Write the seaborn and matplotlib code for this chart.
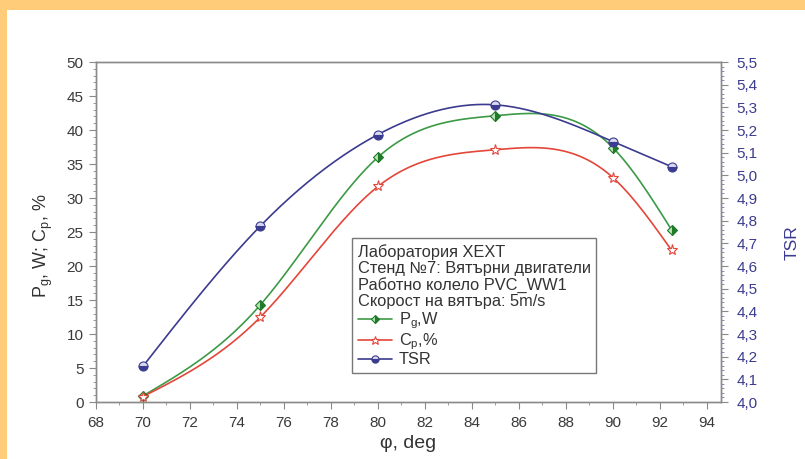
import numpy as np
import matplotlib
matplotlib.use("Agg")
import matplotlib.pyplot as plt
import seaborn as sns
import pandas as pd
from matplotlib.patches import Rectangle
from matplotlib.ticker import MultipleLocator, FuncFormatter
from matplotlib.lines import Line2D

# ---- data ----
phi = [70, 75, 80, 85, 90, 92.5]
pg_w = [0.9, 14.3, 36.0, 42.1, 37.4, 25.3]
cp_pct = [0.8, 12.5, 31.7, 37.1, 33.0, 22.3]
tsr = [4.158, 4.777, 5.180, 5.311, 5.149, 5.038]

legend_title = ["Лаборатория XEXT",
                "Стенд №7: Вятърни двигатели",
                "Работно колело PVC_WW1",
                "Скорост на вятъра: 5m/s"]
x_ticks = list(range(68, 95, 2))
left_ticks = list(range(0, 51, 5))
right_ticks = [4.0 + 0.1 * i for i in range(16)]


def natural_spline(x, y, n=300):
    x = np.asarray(x, float); y = np.asarray(y, float)
    k = len(x); h = np.diff(x)
    A = np.zeros((k, k)); r = np.zeros(k)
    A[0, 0] = A[-1, -1] = 1
    for i in range(1, k - 1):
        A[i, i - 1] = h[i - 1]; A[i, i] = 2 * (h[i - 1] + h[i]); A[i, i + 1] = h[i]
        r[i] = 6 * ((y[i + 1] - y[i]) / h[i] - (y[i] - y[i - 1]) / h[i - 1])
    M = np.linalg.solve(A, r)
    xs = np.linspace(x[0], x[-1], n)
    idx = np.clip(np.searchsorted(x, xs) - 1, 0, k - 2)
    x0 = x[idx]; x1 = x[idx + 1]; hh = x1 - x0
    ys = (M[idx] * (x1 - xs) ** 3 / (6 * hh) + M[idx + 1] * (xs - x0) ** 3 / (6 * hh)
          + (y[idx] / hh - M[idx] * hh / 6) * (x1 - xs)
          + (y[idx + 1] / hh - M[idx + 1] * hh / 6) * (xs - x0))
    return xs, ys


sns.set_theme(style="ticks")
plt.rcParams['font.family'] = ['Liberation Sans', 'DejaVu Sans']
plt.rcParams['mathtext.fontset'] = 'custom'
plt.rcParams['mathtext.rm'] = 'Liberation Sans'
plt.rcParams['mathtext.it'] = 'Liberation Sans'

fig = plt.figure(figsize=(8.05, 4.59), dpi=100)
fig.patch.set_facecolor('white')
ax = fig.add_axes([96 / 805, 57 / 459, 625 / 805, 340 / 459])
ax2 = ax.twinx()

GREEN = '#3c9a46'
DGREEN = '#1f7a2a'
RED = '#e4463a'
NAVY = '#3b3b8f'
SPINE = '#8a8a8a'

df = pd.DataFrame({'phi': phi, 'pg': pg_w, 'cp': cp_pct, 'tsr': tsr})

xs, ys = natural_spline(phi, pg_w)
sns.lineplot(x=xs, y=ys, ax=ax, color=GREEN, lw=1.2)
xs, ys = natural_spline(phi, cp_pct)
sns.lineplot(x=xs, y=ys, ax=ax, color=RED, lw=1.2)
xs, ys = natural_spline(phi, tsr)
sns.lineplot(x=xs, y=ys, ax=ax2, color=NAVY, lw=1.2)

pg_kw = dict(ls='none', marker='D', ms=5.5, fillstyle='right', markerfacecolor=DGREEN,
             markerfacecoloralt='#b9e6b5', markeredgecolor=DGREEN, markeredgewidth=0.8)
cp_kw = dict(ls='none', marker='*', ms=8, markerfacecolor='white',
             markeredgecolor=RED, markeredgewidth=0.8)
tsr_kw = dict(ls='none', marker='o', ms=6.5, fillstyle='bottom', markerfacecolor=NAVY,
              markerfacecoloralt='#d8d8f0', markeredgecolor=NAVY, markeredgewidth=0.8)
ax.plot(df['phi'], df['pg'], zorder=5, **pg_kw)
ax.plot(df['phi'], df['cp'], zorder=5, **cp_kw)
ax2.plot(df['phi'], df['tsr'], zorder=5, **tsr_kw)

ax.set_xlim(68, 94.6)
ax.set_ylim(0, 50)
ax2.set_ylim(4.0, 5.5)
ax.set_xticks(x_ticks)
ax.set_yticks(left_ticks)
ax2.set_yticks(right_ticks)
ax.xaxis.set_minor_locator(MultipleLocator(1))
ax.yaxis.set_minor_locator(MultipleLocator(1))
ax2.yaxis.set_minor_locator(MultipleLocator(0.02))
ax2.yaxis.set_major_formatter(FuncFormatter(lambda v, p: f"{v:.1f}".replace('.', ',')))

for a in (ax, ax2):
    for s in a.spines.values():
        s.set_visible(True)
        s.set_color(SPINE)
        s.set_linewidth(1.0)
ax.tick_params(axis='both', which='major', direction='out', length=5, width=0.8,
               color=SPINE, labelsize=11, labelcolor='#3a3a3a', pad=4)
ax.tick_params(axis='x', which='major', pad=5)
ax.tick_params(axis='both', which='minor', direction='out', length=2.5, width=0.6, color=SPINE)
ax2.tick_params(axis='y', which='major', direction='out', length=5, width=0.8,
                color=SPINE, labelsize=11, labelcolor=NAVY, pad=6)
ax2.tick_params(axis='y', which='minor', direction='out', length=2.5, width=0.6, color='#7a7ab0')

ax.set_xlabel('φ, deg', fontsize=14, color='#333333', labelpad=4)
ax.set_ylabel('P$_g$, W; C$_p$, %', fontsize=13, color='#333333')
ax.yaxis.set_label_coords(-0.065, 0.46)
ax2.set_ylabel('TSR', fontsize=12.5, color=NAVY)
ax2.yaxis.set_label_coords(1.102, 0.468)

handles = [Line2D([], [], color=GREEN, lw=1.2, **{k: v for k, v in pg_kw.items() if k != 'ls'}),
           Line2D([], [], color=RED, lw=1.2, **{k: v for k, v in cp_kw.items() if k != 'ls'}),
           Line2D([], [], color=NAVY, lw=1.2, **{k: v for k, v in tsr_kw.items() if k != 'ls'})]
for h in handles:
    h.set_markersize(h.get_markersize() * 0.8)
labels = ['P$_g$,W', 'C$_p$,%', 'TSR']
leg = ax2.legend(handles, labels, title='\n'.join(legend_title), loc='upper left',
                 bbox_to_anchor=(0.4096, 0.482), borderaxespad=0,
                 fontsize=11.8, title_fontsize=11.8,
                 frameon=True, fancybox=False, edgecolor='#777777', framealpha=1,
                 alignment='left', handlelength=2.1, handletextpad=0.4,
                 handleheight=0.5, labelspacing=0.0, borderpad=0.35)
leg.get_frame().set_linewidth(1.0)
leg.get_title().set_color('#333333')
leg.get_title().set_linespacing(1.1)
leg._legend_box.sep = 1
for t in leg.get_texts():
    t.set_color('#333333')

# yellow frame border
fig.add_artist(Rectangle((0, 0), 7 / 805, 1, transform=fig.transFigure,
                         color='#ffcc7a', lw=0, zorder=0))
fig.add_artist(Rectangle((0, 1 - 10 / 459), 1, 10 / 459, transform=fig.transFigure,
                         color='#ffcc7a', lw=0, zorder=0))

fig.savefig('out.png', dpi=100)
